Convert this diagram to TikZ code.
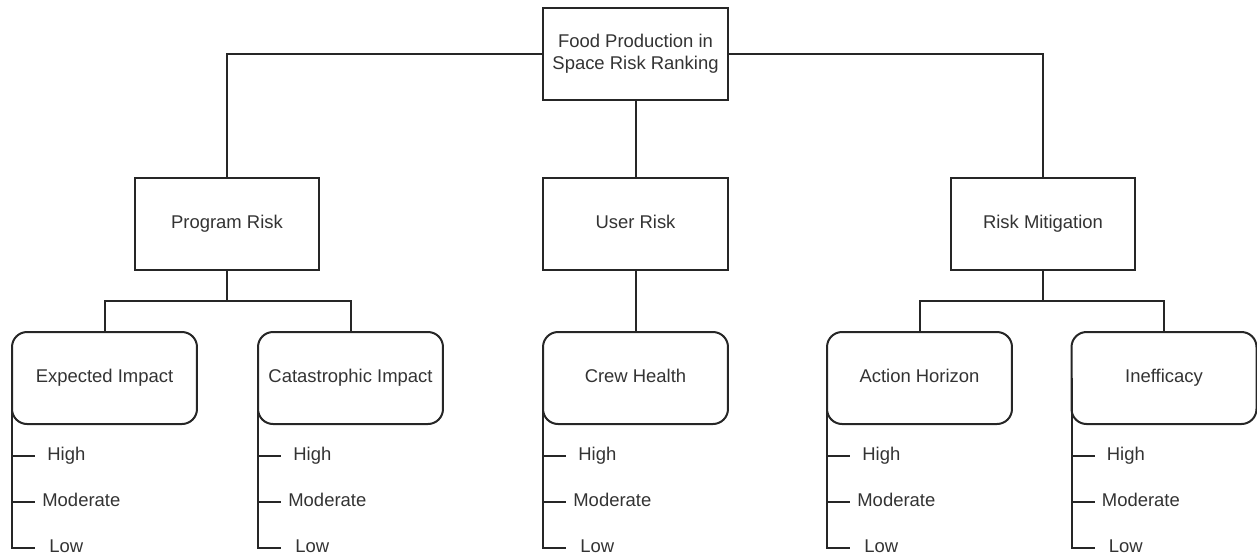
\documentclass[tikz,border=0pt]{standalone}
\usepackage{fontspec}
\setmainfont{Liberation Sans}
\usetikzlibrary{positioning}
\definecolor{inkline}{HTML}{262626}
\definecolor{inktext}{HTML}{333333}
\tikzset{
  riskbox/.style={draw=inkline, line width=0.04cm, minimum width=3.7cm, minimum height=1.84cm,
    outer sep=0pt, inner sep=2pt, align=center, text=inktext,
    font=\fontsize{10.5pt}{12.6pt}\selectfont},
  oneline/.style={text height=0.72em, text depth=0.2em},
  factorbox/.style={riskbox, oneline, rounded corners=0.3cm},
  wire/.style={draw=inkline, line width=0.04cm},
  levelitem/.style={anchor=west, inner ysep=0pt, oneline, text=inktext,
    font=\fontsize{10.5pt}{12.6pt}\selectfont}
}
\begin{document}
\begin{tikzpicture}[x=0.02cm,y=-0.02cm]
  \useasboundingbox (0,0) rectangle (1257,559);

  % Drawing top box
  \node[riskbox] (ranking) at (635.5,54) {Food Production in\\Space Risk Ranking};

  % Drawing risk boxes
  \node[riskbox, oneline] (program) at (227,223.5) {Program Risk};
  \node[riskbox, oneline] (user) at (635.5,223.5) {User Risk};
  \node[riskbox, oneline] (mitig) at (1043,223.5) {Risk Mitigation};

  % Drawing factor boxes
  \node[factorbox] (expected) at (104.5,378) {Expected Impact};
  \node[factorbox] (catastr) at (350.5,378) {Catastrophic Impact};
  \node[factorbox] (crew) at (635.5,378) {Crew Health};
  \node[factorbox] (action) at (919.5,378) {Action Horizon};
  \node[factorbox] (ineff) at (1164,378) {Inefficacy};

  % Drawing top connectors
  \draw[wire] (ranking.west) -| (program.north);
  \draw[wire] (ranking.east) -| (mitig.north);
  \draw[wire] (ranking.south) -- (user.north);

  % Drawing bus lines
  \coordinate (progbus) at (227,301);
  \coordinate (mitigbus) at (1043,301);
  \draw[wire] (program.south) -- (progbus);
  \draw[wire] (progbus) -| (expected.north);
  \draw[wire] (progbus) -| (catastr.north);
  \draw[wire] (user.south) -- (crew.north);
  \draw[wire] (mitig.south) -- (mitigbus);
  \draw[wire] (mitigbus) -| (action.north);
  \draw[wire] (mitigbus) -| (ineff.north);

  % Drawing levels below each factor
  \foreach \b in {expected,catastr,crew,action,ineff}{
    \foreach \lvl/\txt/\dy/\sep in {high/High/78/0.24cm, mod/Moderate/124/0.14cm, low/Low/170/0.28cm}{
      \node[levelitem, inner xsep=\sep] (\b-\lvl) at ([shift={(23,\dy)}]\b.west) {\txt};
    }
    \draw[wire] (\b.west) |- (\b-low.west);
    \draw[wire] (\b.west |- \b-high.west) -- (\b-high.west);
    \draw[wire] (\b.west |- \b-mod.west) -- (\b-mod.west);
  }
\end{tikzpicture}
\end{document}
